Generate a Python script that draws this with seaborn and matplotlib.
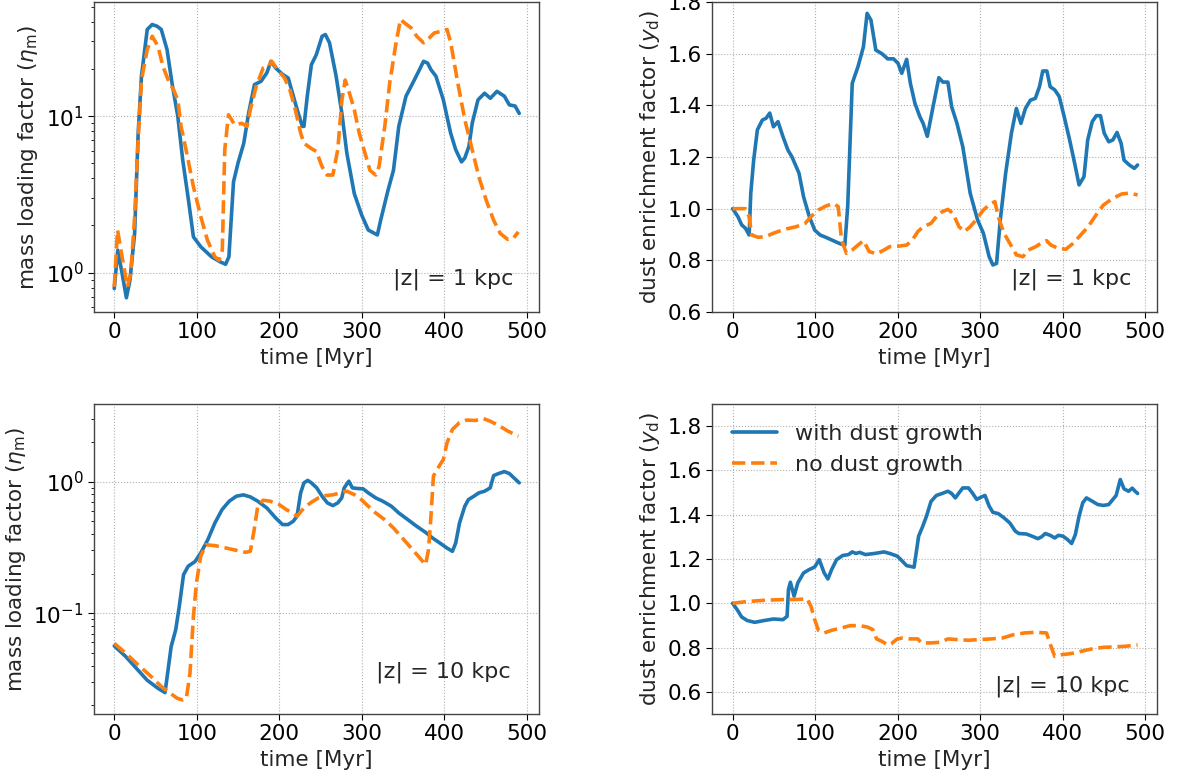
import numpy as np
import pandas as pd
import matplotlib
matplotlib.use("Agg")
import matplotlib.pyplot as plt
import seaborn as sns

# ---------------- data ----------------
# |z| = 1 kpc, mass loading factor
t_eta1_growth = [0, 4.3, 9.5, 14.7, 19, 24.7, 29, 33, 40, 46, 52, 57, 64, 70, 77, 83, 90, 96, 105, 118,
                 128.6, 135, 139, 144.6, 150, 157, 163, 170, 178, 185, 190, 195.7, 204, 211, 215, 222, 228,
                 230, 234, 239, 245, 252, 256, 261, 269, 276, 282, 291, 300, 308, 319, 323, 332, 338.5, 345,
                 353.7, 362, 369, 375, 380, 384, 390, 399, 407.8, 414, 421, 425, 430, 434, 441, 449, 456,
                 464, 473, 479, 486, 491]
eta1_growth = [0.79, 1.39, 0.99, 0.69, 0.89, 1.78, 7.8, 18, 35.8, 38.5, 37.5, 35.8, 26.6, 16.3, 10, 5.25,
               2.9, 1.69, 1.46, 1.26, 1.17, 1.13, 1.26, 3.8, 5.0, 6.7, 10.5, 15.9, 16.7, 18.9, 22.4, 20.3,
               18.5, 17.5, 14.7, 10.9, 8.6, 8.6, 13.4, 21.3, 24.7, 32.4, 33.2, 29.4, 18, 10.4, 5.8, 3.2,
               2.33, 1.87, 1.74, 2.16, 3.37, 4.5, 8.6, 13.4, 16.3, 19.3, 22.4, 21.8, 19.8, 18, 12.7, 7.8,
               6.1, 5.1, 5.4, 6.4, 9.0, 12.7, 14.0, 13.0, 14.4, 13.4, 11.8, 11.6, 10.4]

t_eta1_nogrowth = [0, 4, 9.5, 16, 20, 24.7, 29, 33, 40, 46, 53, 59, 66, 72, 77, 81, 87, 96, 105, 113, 122,
                   127, 131, 134, 138.5, 146, 154.5, 161, 165, 172, 180.5, 187, 191, 198, 206.5, 213, 219.5,
                   226, 230, 239, 245, 252, 258, 265, 271, 276, 280, 284, 291, 297, 304, 310, 317, 321, 328,
                   334, 341, 347, 351.5, 360, 366.7, 375, 382, 388, 397, 403.5, 408, 416.5, 425, 434, 442,
                   451, 460, 468, 477, 483.5, 490]
eta1_nogrowth = [0.81, 1.87, 1.26, 0.81, 0.99, 2.27, 7.05, 17, 26.6, 32.4, 28, 20.8, 16.7, 14.7, 12.7, 8.6,
                 6.1, 3.54, 2.27, 1.61, 1.26, 1.2, 1.39, 6.1, 10.2, 8.8, 9.0, 8.6, 11, 15.4, 20.3, 20.8,
                 22.4, 19.8, 17.5, 14.7, 11, 7.8, 6.7, 6.2, 5.95, 4.75, 4.2, 4.2, 6.1, 12.7, 17, 14.7, 11,
                 7.8, 5.8, 4.5, 4.2, 4.75, 8.6, 16.3, 28, 41.5, 39.6, 36.6, 32.4, 29.4, 31.6, 34, 34.9, 35.8,
                 29.4, 16.3, 9.5, 6.1, 4.1, 2.9, 2.16, 1.78, 1.63, 1.65, 1.82]

# |z| = 1 kpc, dust enrichment factor
t_yd1_growth = [0, 6.4, 11, 15.5, 20, 22, 25.5, 30, 36, 40.5, 45, 49.5, 55, 61, 67, 72, 80.5, 86, 93, 99.5,
                106, 113, 122, 129, 136, 139.5, 145, 152, 158.6, 163, 167.7, 173.6, 181, 188, 195, 200.5,
                205, 211, 215.5, 221, 227, 231, 236, 243, 250, 255, 261, 265.5, 272, 279, 288, 297, 304,
                311, 315.5, 320, 324.5, 331, 338, 344, 349.5, 355, 361, 367, 372, 376, 381, 385, 390.5, 396,
                402, 408.6, 415.5, 420, 426, 430.5, 436, 441, 446, 450.5, 456, 461, 466, 471, 474.5, 481,
                487, 491]
yd1_growth = [1.0, 0.969, 0.937, 0.924, 0.898, 1.06, 1.188, 1.305, 1.343, 1.35, 1.37, 1.317, 1.337, 1.279,
              1.227, 1.2, 1.137, 1.046, 0.969, 0.917, 0.898, 0.889, 0.876, 0.866, 0.858, 1.008, 1.485, 1.55,
              1.627, 1.756, 1.73, 1.614, 1.6, 1.58, 1.58, 1.563, 1.524, 1.578, 1.485, 1.408, 1.356, 1.33,
              1.28, 1.395, 1.507, 1.49, 1.49, 1.395, 1.33, 1.24, 1.06, 0.956, 0.905, 0.814, 0.782, 0.788,
              0.956, 1.137, 1.292, 1.388, 1.33, 1.388, 1.42, 1.427, 1.472, 1.533, 1.533, 1.472, 1.46,
              1.434, 1.356, 1.266, 1.163, 1.092, 1.124, 1.266, 1.337, 1.36, 1.36, 1.292, 1.259, 1.266,
              1.295, 1.253, 1.188, 1.169, 1.156, 1.169]

t_yd1_nogrowth = [0, 15.5, 20, 23, 31, 40.5, 49.5, 63, 77, 88, 95, 104, 113, 122, 128, 132, 138, 145, 152,
                  158.6, 165.5, 174.5, 183.6, 190.5, 202, 211, 218, 224.5, 231, 240.5, 247, 254, 261, 267,
                  274.5, 281, 288, 295, 304, 313, 318, 322, 329, 336, 344, 352, 358.6, 367.7, 374.5, 380.5,
                  386, 395, 404, 413, 422, 431, 440.5, 449.5, 461, 472, 481, 491]
yd1_nogrowth = [1.0, 1.0, 0.969, 0.898, 0.889, 0.892, 0.905, 0.92, 0.93, 0.943, 0.969, 0.995, 1.01, 1.02,
                1.008, 0.879, 0.827, 0.84, 0.859, 0.876, 0.834, 0.825, 0.84, 0.853, 0.855, 0.859, 0.879,
                0.911, 0.93, 0.943, 0.969, 0.988, 0.997, 0.982, 0.93, 0.911, 0.93, 0.956, 0.995, 1.02,
                1.027, 0.969, 0.905, 0.866, 0.821, 0.814, 0.84, 0.853, 0.868, 0.876, 0.859, 0.846, 0.843,
                0.866, 0.898, 0.93, 0.975, 1.014, 1.04, 1.057, 1.06, 1.053]

# |z| = 10 kpc, mass loading factor
t_eta10_growth = [0, 13.9, 26.8, 39.8, 52.8, 61.5, 63.6, 69, 74.5, 78.8, 84, 89.6, 98, 104.8, 113.4, 122,
                  130.7, 139.4, 148, 156.7, 165, 174, 185, 195.7, 204, 210.8, 217, 221.6, 226, 230, 234.6,
                  239, 245.5, 252, 258.4, 265, 271, 275.8, 278.8, 284.4, 288.7, 295, 301.7, 308, 317, 325.5,
                  336, 345, 355.8, 366.7, 377.5, 386, 394.8, 403.5, 410, 414, 418.6, 425, 429.4, 436, 442,
                  449, 455.8, 460, 466, 473, 479, 485.7, 491]
eta10_growth = [0.0564, 0.0468, 0.0381, 0.031, 0.0269, 0.0249, 0.031, 0.0557, 0.0747, 0.112, 0.196, 0.227,
                0.247, 0.286, 0.361, 0.484, 0.612, 0.709, 0.773, 0.792, 0.764, 0.709, 0.63, 0.529, 0.471,
                0.471, 0.499, 0.545, 0.82, 0.977, 1.02, 0.977, 0.895, 0.773, 0.688, 0.656, 0.688, 0.751,
                0.895, 1.006, 0.895, 0.885, 0.88, 0.82, 0.751, 0.709, 0.649, 0.577, 0.514, 0.457, 0.411,
                0.372, 0.341, 0.312, 0.295, 0.341, 0.484, 0.649, 0.729, 0.773, 0.82, 0.844, 0.895, 1.11,
                1.15, 1.19, 1.15, 1.05, 0.977]

t_eta10_nogrowth = [0, 13.9, 29, 44, 57, 68, 76.6, 83, 87.4, 91.8, 96, 99.6, 104.8, 111, 122, 135, 148, 159,
                    165, 169.7, 174, 180.5, 189, 200, 208.6, 217, 221.6, 230, 239, 247.6, 256, 265, 273.6,
                    282, 291, 299.6, 308, 317, 327.7, 338.5, 349.4, 360, 368.8, 377.5, 381, 384, 387, 392.6,
                    399, 403.5, 410, 418.6, 427, 438, 446.8, 455.4, 466, 477, 490]
eta10_nogrowth = [0.059, 0.0496, 0.0404, 0.0333, 0.0277, 0.0246, 0.0225, 0.0219, 0.0225, 0.0349, 0.0944,
                  0.169, 0.27, 0.331, 0.326, 0.313, 0.3, 0.29, 0.295, 0.431, 0.649, 0.721, 0.709, 0.668,
                  0.612, 0.571, 0.545, 0.63, 0.696, 0.751, 0.782, 0.792, 0.82, 0.844, 0.796, 0.729, 0.649,
                  0.577, 0.514, 0.444, 0.372, 0.312, 0.27, 0.233, 0.304, 0.545, 1.1, 1.27, 1.47, 1.97, 2.49,
                  2.8, 2.93, 2.91, 3.02, 2.88, 2.67, 2.42, 2.21]

# |z| = 10 kpc, dust enrichment factor
t_yd10_growth = [0, 5.5, 11, 17.7, 26.8, 38, 49.5, 61, 66, 67.7, 70, 74.5, 79, 86, 92.7, 99.5, 105, 111,
                 115.5, 120, 126, 133.6, 140.5, 145, 149.5, 154, 161, 172, 183.6, 190.5, 199.5, 204, 211,
                 220, 225.5, 230.5, 235, 240.5, 247, 254, 261, 265.5, 270, 274.5, 279, 286, 290.5, 296, 302,
                 306, 311, 315.5, 322, 329, 336, 342.7, 347, 356, 363, 370, 374.5, 379, 385, 390.5, 395,
                 400.5, 406, 411, 415.5, 420, 424.5, 429, 436, 442.7, 449.5, 456, 461, 465, 470, 474.5, 480,
                 484.5, 488, 491]
yd10_growth = [1.0, 0.971, 0.938, 0.922, 0.914, 0.922, 0.929, 0.926, 0.941, 1.062, 1.095, 1.032, 1.092,
               1.137, 1.152, 1.164, 1.197, 1.137, 1.11, 1.152, 1.197, 1.216, 1.22, 1.232, 1.225, 1.23, 1.22,
               1.225, 1.232, 1.225, 1.213, 1.197, 1.17, 1.163, 1.303, 1.348, 1.393, 1.46, 1.487, 1.496,
               1.506, 1.496, 1.476, 1.499, 1.521, 1.521, 1.499, 1.469, 1.481, 1.487, 1.439, 1.411, 1.405,
               1.386, 1.363, 1.326, 1.315, 1.313, 1.303, 1.292, 1.3, 1.315, 1.307, 1.295, 1.307, 1.303,
               1.288, 1.27, 1.31, 1.393, 1.454, 1.476, 1.461, 1.446, 1.442, 1.446, 1.469, 1.487, 1.559,
               1.517, 1.506, 1.52, 1.506, 1.496]

t_yd10_nogrowth = [0, 17.7, 40.5, 63, 77, 90.5, 95, 99.5, 104, 111, 120, 131, 142.7, 154, 163, 170, 174.5,
                   181, 188, 192.7, 199.5, 206, 215.5, 224.5, 229, 240.5, 252, 261, 272, 286, 299.5, 313,
                   327, 340.5, 354, 367.7, 380.5, 386, 390.5, 399.5, 408.6, 417.7, 427, 436, 449.5, 463,
                   476.8, 491]
yd10_nogrowth = [1.0, 1.008, 1.014, 1.017, 1.017, 1.02, 0.986, 0.926, 0.878, 0.866, 0.878, 0.888, 0.899,
                 0.899, 0.893, 0.881, 0.839, 0.828, 0.812, 0.818, 0.839, 0.843, 0.839, 0.839, 0.821, 0.821,
                 0.824, 0.839, 0.836, 0.833, 0.836, 0.839, 0.843, 0.858, 0.866, 0.869, 0.866, 0.806, 0.76,
                 0.768, 0.772, 0.778, 0.787, 0.794, 0.801, 0.803, 0.806, 0.812]

labels = ["with dust growth", "no dust growth"]
annotations = ["|z| = 1 kpc", "|z| = 1 kpc", "|z| = 10 kpc", "|z| = 10 kpc"]
xlabel = "time [Myr]"
ylabel_eta = r"mass loading factor ($\eta_{\rm m}$)"
ylabel_yd = r"dust enrichment factor ($y_{\rm d}$)"

# ---------------- style ----------------
sns.set_style("ticks")
FS = 15.5
plt.rcParams.update({
    "font.family": ["DejaVu Sans"],
    "font.size": FS,
    "axes.labelsize": FS,
    "xtick.labelsize": FS,
    "ytick.labelsize": FS,
    "axes.edgecolor": "#444444",
    "axes.linewidth": 1.0,
    "xtick.color": "black",
    "ytick.color": "black",
    "xtick.major.size": 4,
    "ytick.major.size": 4,
    "ytick.minor.size": 2.5,
    "mathtext.fontset": "dejavusans",
})

blue = "#1f77b4"
orange = "#ff7f0e"
lw = 2.6

fig, axes = plt.subplots(2, 2, figsize=(11.77, 7.78), dpi=100)
fig.subplots_adjust(left=0.0799, right=0.9830, bottom=0.0823, top=0.9974, wspace=0.391, hspace=0.297)

panels = [
    (axes[0, 0], t_eta1_growth, eta1_growth, t_eta1_nogrowth, eta1_nogrowth),
    (axes[0, 1], t_yd1_growth, yd1_growth, t_yd1_nogrowth, yd1_nogrowth),
    (axes[1, 0], t_eta10_growth, eta10_growth, t_eta10_nogrowth, eta10_nogrowth),
    (axes[1, 1], t_yd10_growth, yd10_growth, t_yd10_nogrowth, yd10_nogrowth),
]

for ax, tg, vg, tn, vn in panels:
    dg = pd.DataFrame({"t": tg, "v": vg})
    dn = pd.DataFrame({"t": tn, "v": vn})
    sns.lineplot(data=dg, x="t", y="v", ax=ax, color=blue, lw=lw, estimator=None, sort=False,
                 label=labels[0])
    sns.lineplot(data=dn, x="t", y="v", ax=ax, color=orange, lw=lw, estimator=None, sort=False,
                 label=labels[1], linestyle="--")
    ax.set_xlabel(xlabel)
    ax.set_xticks([0, 100, 200, 300, 400, 500])
    ax.grid(True, which="major", linestyle=":", color="#b0b0b0", linewidth=0.8)
    for s in ax.spines.values():
        s.set_visible(True)
    if ax.get_legend() is not None:
        ax.get_legend().remove()

# panel specifics
ax = axes[0, 0]
ax.set_yscale("log")
ax.set_ylim(0.56, 53.6)
ax.set_ylabel(ylabel_eta)
ax.text(0.944, 0.07, annotations[0], transform=ax.transAxes, ha="right", va="bottom", fontsize=16)

ax = axes[0, 1]
ax.set_ylim(0.6, 1.8)
ax.set_yticks([0.6, 0.8, 1.0, 1.2, 1.4, 1.6, 1.8])
ax.set_ylabel(ylabel_yd)
ax.text(0.942, 0.07, annotations[1], transform=ax.transAxes, ha="right", va="bottom", fontsize=16)

ax = axes[1, 0]
ax.set_yscale("log")
ax.set_ylim(0.01714, 3.88)
ax.set_ylabel(ylabel_eta)
ax.text(0.937, 0.10, annotations[2], transform=ax.transAxes, ha="right", va="bottom", fontsize=16)

ax = axes[1, 1]
ax.set_ylim(0.5, 1.9)
ax.set_yticks([0.6, 0.8, 1.0, 1.2, 1.4, 1.6, 1.8])
ax.set_ylabel(ylabel_yd)
ax.text(0.939, 0.055, annotations[3], transform=ax.transAxes, ha="right", va="bottom", fontsize=16)
ax.legend(loc="upper left", frameon=False, fontsize=16, handlelength=2.0)

for ax in axes.flat:
    ax.set_xlim(-24.5, 514.5)

fig.savefig("out.png", dpi=100)
